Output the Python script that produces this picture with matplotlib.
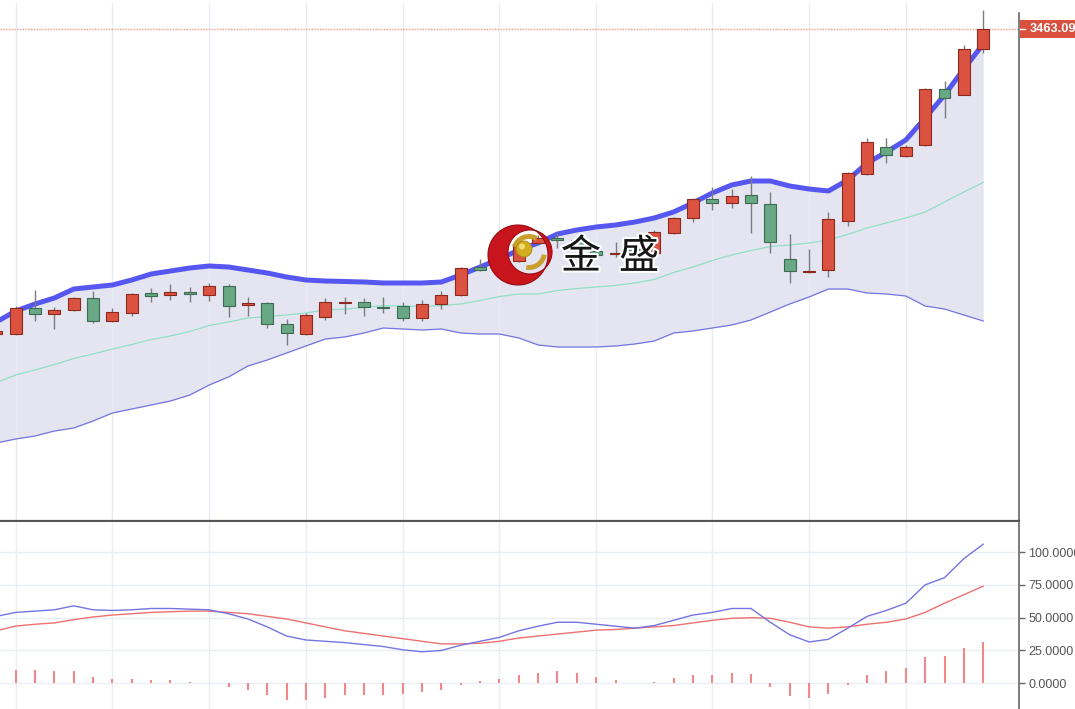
import numpy as np
import matplotlib.pyplot as plt
from matplotlib.path import Path
from matplotlib.patches import PathPatch, Circle, Rectangle, Wedge
import matplotlib.patheffects as pe

plt.rcParams['font.family'] = ['Liberation Sans', 'DejaVu Sans']

# --- candles (index -1 is the one cut at the left edge) ---
idx = np.arange(-1, 51)
opens = [3158, 3158, 3184, 3178, 3182, 3194, 3171, 3179, 3199, 3197, 3200, 3197, 3206,
         3187, 3189, 3168, 3158, 3175, 3189, 3190, 3185.5, 3186, 3174, 3188, 3197, 3225,
         3226, 3231, 3249, 3254, 3252, 3241, 3238, 3243, 3239, 3259, 3274, 3293, 3289,
         3297, 3288, 3233, 3220.5, 3222, 3271, 3318, 3345, 3336, 3347, 3403, 3397, 3443]
closes = [3161, 3184, 3178, 3182, 3194, 3171, 3180, 3198, 3196, 3200, 3198, 3206, 3186,
          3189, 3168, 3159, 3177, 3190, 3190.5, 3185, 3184, 3174, 3188, 3197, 3224, 3222,
          3234, 3248, 3254, 3252, 3245, 3237, 3239.5, 3239, 3260, 3274, 3293, 3289, 3296,
          3289, 3250, 3221, 3221.5, 3273, 3319, 3350, 3337, 3345, 3403, 3394, 3443, 3463.09]
highs = [3163, 3186, 3202, 3185, 3195, 3201, 3184, 3199, 3204, 3208, 3205, 3209, 3208,
         3195, 3190, 3173, 3179, 3194, 3195, 3194, 3195, 3190, 3192, 3201, 3225, 3233,
         3238, 3250, 3257, 3259, 3256, 3246, 3250, 3246, 3262, 3275, 3294, 3305, 3303,
         3316, 3300, 3258, 3243, 3280, 3320, 3354, 3354, 3347, 3404, 3411, 3447, 3482]
lows = [3156, 3157, 3171, 3163, 3181, 3169, 3170, 3176, 3190, 3192, 3190, 3191, 3175,
        3176, 3164, 3147, 3157, 3172, 3178, 3176, 3179, 3171, 3171, 3183, 3196, 3221,
        3224, 3230, 3247, 3244, 3242, 3234, 3235, 3236, 3238, 3258, 3270, 3282, 3284,
        3259, 3239, 3209, 3219, 3215, 3266, 3317, 3329, 3335, 3346, 3374, 3397, 3439]

# --- bollinger bands ---
boll_up = [3170, 3181, 3188, 3194, 3203, 3205, 3207, 3212, 3218, 3221, 3224, 3226, 3225,
           3222, 3219, 3215, 3212, 3211, 3210.5, 3210, 3209, 3209, 3209, 3210, 3217, 3225,
           3233, 3242, 3249, 3258, 3262, 3265, 3267, 3270, 3274, 3280, 3289, 3299, 3307,
           3311, 3311, 3306, 3303, 3301, 3312, 3329, 3340, 3352, 3374, 3397, 3423, 3448]
boll_mid = [3109.5, 3117, 3122, 3127.5, 3133.5, 3138, 3143, 3147.5, 3152.5, 3156, 3160.5,
            3166.5, 3170, 3174, 3175.5, 3177, 3179, 3182, 3182.8, 3184.5, 3186.5, 3186,
            3185.5, 3186.5, 3188, 3191.5, 3195.5, 3198, 3198, 3201.5, 3203.5, 3205, 3206.5,
            3209, 3212.5, 3219.5, 3225, 3231.5, 3237, 3241.5, 3245.5, 3247, 3249, 3252,
            3257.5, 3264, 3269, 3274, 3280, 3290, 3300, 3309.5]
boll_low = [3049, 3053, 3056, 3061, 3064, 3071, 3079, 3083, 3087, 3091, 3097, 3107, 3115,
            3126, 3132, 3139, 3146, 3153, 3155, 3159, 3164, 3163, 3162, 3163, 3159, 3158,
            3158, 3154, 3147, 3145, 3145, 3145, 3146, 3148, 3151, 3159, 3161, 3164, 3167,
            3172, 3180, 3188, 3195, 3203, 3203, 3199, 3198, 3196, 3186, 3183, 3177, 3171]
last_price = 3463.09

# --- lower indicator ---
k_line = [51, 54, 55, 56, 59, 56, 55.5, 56, 57, 57, 56.5, 56, 53, 49, 43, 36, 33, 32, 31,
          29.5, 28, 25.5, 24, 25, 29, 32, 35, 40, 43.5, 46.5, 46.5, 45, 43.5, 42, 44, 48,
          52, 54, 57, 57, 46.5, 37, 31.5, 33.5, 42, 51, 55.5, 61, 75, 80.5, 95, 106]
d_line = [40, 43.6, 45, 46, 48.5, 50.5, 52, 53, 54, 54.5, 55, 55, 54, 53, 51, 49, 46, 43,
          40, 38, 36, 34, 32, 30, 30, 30.5, 32, 34.5, 36, 37.5, 39, 40.5, 41, 42, 43, 44,
          46, 48, 49.5, 50, 49.5, 46.5, 43, 42, 43, 45, 46.5, 49, 54, 61, 67.5, 74]
hist = [11, 10.5, 10, 9.5, 9.5, 5, 3.5, 3, 2.5, 2.5, 0.7, 0.3, -2.5, -5.5, -9, -13, -13,
        -11, -9, -9, -9, -8, -7, -5, -1, 1.5, 3, 6, 7.5, 9, 7.5, 4.5, 2.5, 0, 1, 4, 6, 6,
        7.5, 7, -3, -9.5, -11.5, -8.5, -1, 6, 9, 12, 20, 21, 27, 31.5]
ind_ticks = [0, 25, 50, 75, 100]
grid_idx = [0, 5, 10, 15, 20, 25, 30, 36, 41, 46]

opens = np.array(opens); closes = np.array(closes)
up = closes >= opens

fig = plt.figure(figsize=(10.75, 7.09), dpi=100)
ax = fig.add_axes([0, 188 / 709, 1019 / 1075, 518 / 709])
ax2 = fig.add_axes([0, 0, 1019 / 1075, 187 / 709])

xlim = (-0.81, 51.85)

# main panel
ax.fill_between(idx, boll_low, boll_up, color='#e5e5f1', lw=0, zorder=1)
ax.plot(idx, boll_mid, color='#8fe0c4', lw=0.9, zorder=2)
ax.plot(idx, boll_low, color='#7474e2', lw=0.9, zorder=2)
ax.plot(idx, boll_up, color='#5656f0', lw=3.6, zorder=2, solid_joinstyle='round')
ax.axhline(last_price, color='#ec9a8c', lw=1, ls=(0, (1, 1)), zorder=2)

ax.vlines(idx, lows, highs, color='#7c7c7c', lw=1, zorder=3)
body = np.maximum(np.abs(closes - opens), 0.9)
ax.bar(idx, body, bottom=np.minimum(opens, closes), width=0.62,
       color=np.where(up, '#dc5240', '#68a884'),
       edgecolor=np.where(up, '#8a2a1e', '#3d6b52'), lw=0.8, zorder=4)

ax.set_xlim(*xlim)
ax.set_ylim(2971, 3489)
ax.set_xticks(grid_idx)
ax.set_yticks([])
ax.tick_params(axis='x', length=0, labelbottom=False)
ax.grid(axis='x', color='#e6ecf3', lw=1, zorder=0)
for s in ['top', 'left']:
    ax.spines[s].set_visible(False)
ax.spines['bottom'].set_color('#555555')
ax.spines['bottom'].set_linewidth(1.6)
ax.spines['right'].set_color('#666666')
ax.spines['right'].set_linewidth(1.2)
ax.spines['right'].set_bounds(2971, 3479)

# lower panel
ax2.vlines(idx, 0, hist, color='#f08a8a', lw=1.5, zorder=2)
ax2.plot(idx, d_line, color='#ee7070', lw=1, zorder=3)
ax2.plot(idx, k_line, color='#7474e2', lw=1, zorder=3)
ax2.set_xlim(*xlim)
ax2.set_ylim(-19.6, 122.9)
ax2.set_xticks(grid_idx)
ax2.set_yticks(ind_ticks)
ax2.set_yticklabels([f'{v:.4f}' for v in ind_ticks])
ax2.yaxis.tick_right()
ax2.tick_params(axis='x', length=0, labelbottom=False)
ax2.tick_params(axis='y', length=4, width=1, color='#666666', pad=2.5,
                labelsize=9, labelcolor='#555555')
ax2.grid(True, color='#eaeff5', lw=1, zorder=0)
for s in ['top', 'left', 'bottom']:
    ax2.spines[s].set_visible(False)
ax2.spines['right'].set_color('#666666')
ax2.spines['right'].set_linewidth(1.2)

# overlay for watermark and price tag
ov = fig.add_axes([0, 0, 1, 1], zorder=10)
ov.set_xlim(0, 1075)
ov.set_ylim(709, 0)
ov.axis('off')
ov.patch.set_alpha(0)

fig.canvas.draw()
py = 709 - ax.transData.transform((0, last_price))[1]
ov.add_patch(Rectangle((1019.5, py - 9), 60, 18, color='#d9503f', lw=0))
ov.plot([1020, 1025], [py, py], color='white', lw=1)
ov.text(1029.5, py, f'{last_price:.3f}', color='white', fontsize=9.2, fontweight='bold',
        va='center', ha='left')

# logo: red crescent, gold swirls, ball
t = np.linspace(0, 2 * np.pi, 120)
outer = np.column_stack([518 + 30 * np.cos(t), 255 + 30 * np.sin(t)])
inner = np.column_stack([530 + 22 * np.cos(-t), 252 + 22 * np.sin(-t)])
verts = np.vstack([outer, inner])
codes = ([Path.MOVETO] + [Path.LINETO] * 119) * 2
ov.add_patch(PathPatch(Path(verts, codes), fc='#c8141c', ec='#9a0c12', lw=0.8))
ov.add_patch(Wedge((529, 252), 18, 200, 300, width=5, fc='#c9a030', ec='none'))
ov.add_patch(Wedge((529, 252), 18, 10, 100, width=5, fc='#c9a030', ec='none'))
ov.add_patch(Circle((524, 249), 8, fc='#d2ad1e', ec='#a98612', lw=0.6))
ov.add_patch(Circle((522, 246.5), 3, fc='#f3dc72', ec='none'))

halo = [pe.withStroke(linewidth=3, foreground='white')]
for ch, cx in [('金', 581), ('盛', 639)]:
    ov.text(cx, 257, ch, fontsize=29, color='#151515', ha='center', va='center',
            family=['Noto Sans CJK SC', 'DejaVu Sans'], path_effects=halo)

fig.savefig('out.png', dpi=100)
